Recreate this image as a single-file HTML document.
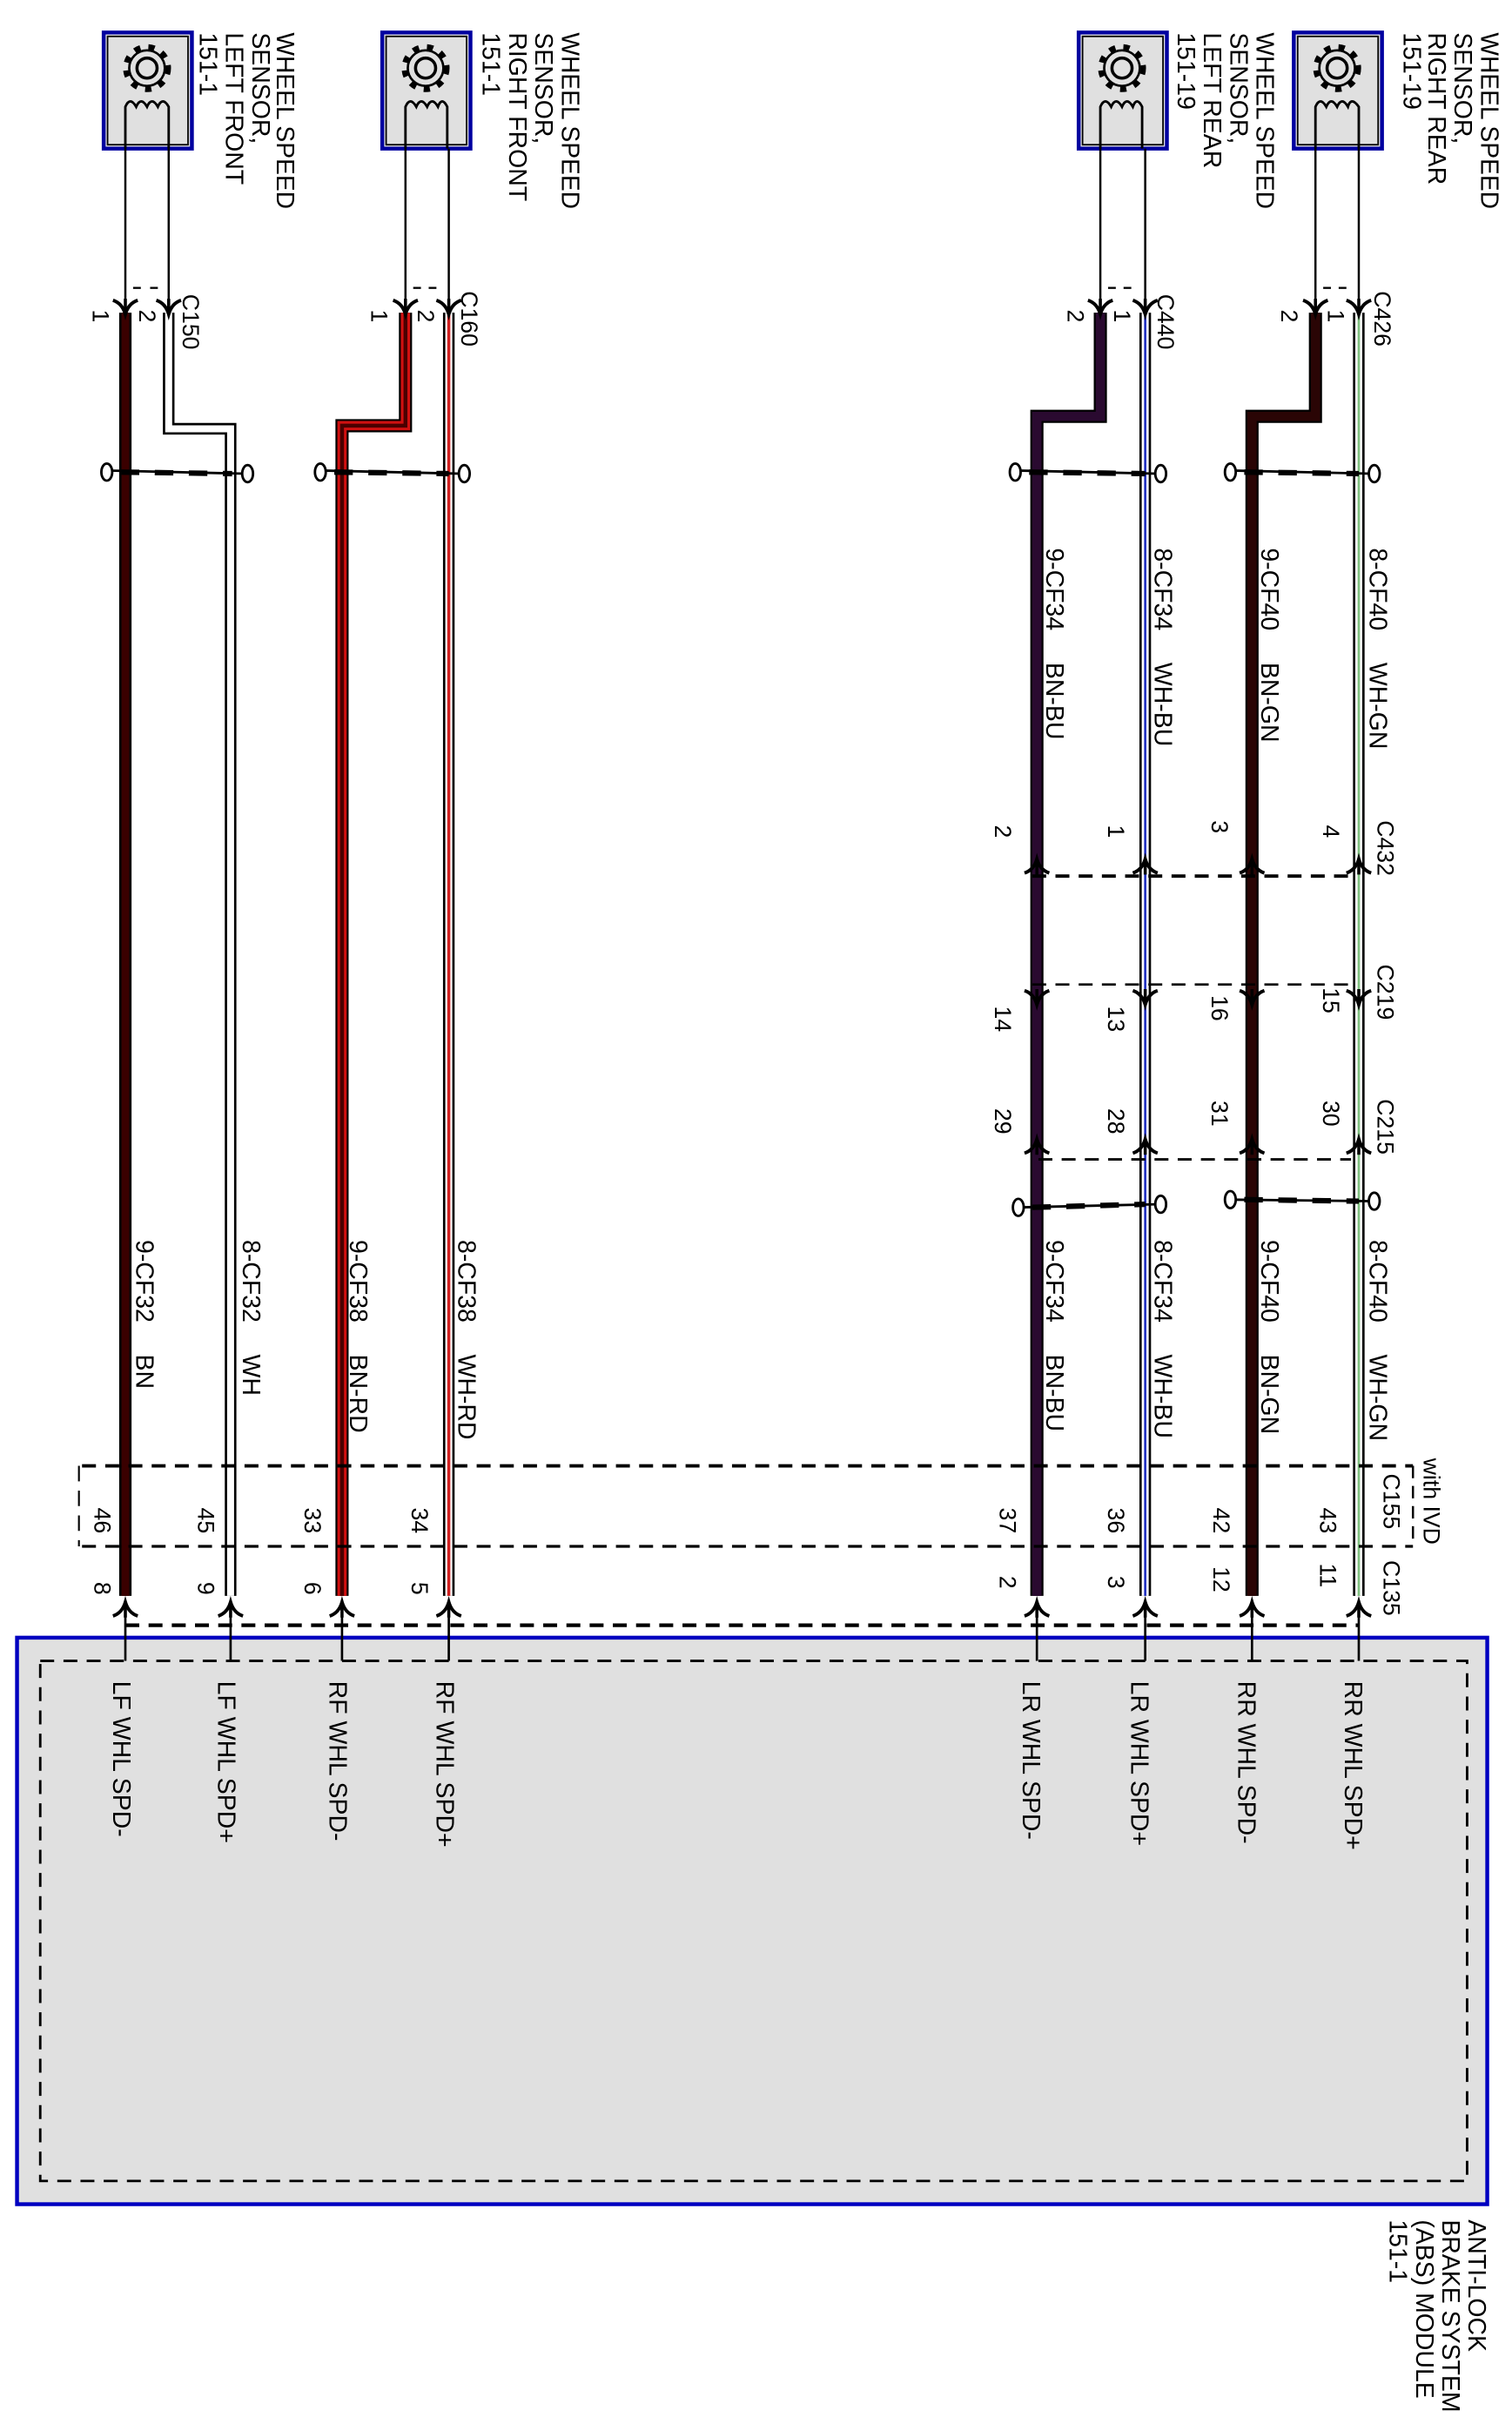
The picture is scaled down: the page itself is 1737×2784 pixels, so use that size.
<!DOCTYPE html>
<html><head><meta charset="utf-8"><style>
html,body{margin:0;padding:0;background:#fff}
svg{display:block}
text{font-family:"Liberation Sans",Arial,sans-serif;fill:#000}
</style></head><body>
<svg width="1737" height="2784" viewBox="0 0 977 1566" preserveAspectRatio="none" xmlns="http://www.w3.org/2000/svg">
<defs>
<g id="gear">
<circle r="13.5" fill="none" stroke="#000" stroke-width="4" stroke-dasharray="4 5.2"/>
<circle r="11.5" fill="#e0e0e0" stroke="#000" stroke-width="1.5"/>
<circle r="6.5" fill="none" stroke="#000" stroke-width="2"/>
</g>
<g id="dn"><path d="M-8,-8 Q-2,-6 0,1 Q2,-6 8,-8" fill="none" stroke="#000" stroke-width="2.2"/><line x1="0" y1="-9" x2="0" y2="1" stroke="#000" stroke-width="2"/></g>
<g id="up"><path d="M-8,8 Q-2,6 0,-1 Q2,6 8,8" fill="none" stroke="#000" stroke-width="2.2"/><line x1="0" y1="9" x2="0" y2="-1" stroke="#000" stroke-width="2"/></g>
</defs>

<!-- sensors -->
<g>
<rect x="67" y="21" width="57" height="75" fill="#e0e0e0" stroke="#0000a0" stroke-width="2.5"/>
<rect x="69.5" y="23.5" width="52" height="70" fill="none" stroke="#000" stroke-width="1"/>
<use href="#gear" x="95" y="44"/>
<path d="M81,96 V69 q3,-7 7,0 q3,-7 7,0 q3,-7 7,0 q3,-7 7,0 V96" fill="none" stroke="#000" stroke-width="1.6"/>
<rect x="247" y="21" width="57" height="75" fill="#e0e0e0" stroke="#0000a0" stroke-width="2.5"/>
<rect x="249.5" y="23.5" width="52" height="70" fill="none" stroke="#000" stroke-width="1"/>
<use href="#gear" x="275" y="44"/>
<path d="M262,96 V69 q3,-7 7,0 q3,-7 7,0 q3,-7 7,0 q2.5,-7 6,0 V96" fill="none" stroke="#000" stroke-width="1.6"/>
<rect x="697" y="21" width="57" height="75" fill="#e0e0e0" stroke="#0000a0" stroke-width="2.5"/>
<rect x="699.5" y="23.5" width="52" height="70" fill="none" stroke="#000" stroke-width="1"/>
<use href="#gear" x="725" y="44"/>
<path d="M711,96 V69 q3,-7 7,0 q3,-7 7,0 q3,-7 7,0 q2.5,-7 6,0 V96" fill="none" stroke="#000" stroke-width="1.6"/>
<rect x="836" y="21" width="57" height="75" fill="#e0e0e0" stroke="#0000a0" stroke-width="2.5"/>
<rect x="838.5" y="23.5" width="52" height="70" fill="none" stroke="#000" stroke-width="1"/>
<use href="#gear" x="864" y="44"/>
<path d="M850,96 V69 q3,-7 7,0 q3,-7 7,0 q3,-7 7,0 q2,-7 7,0 V96" fill="none" stroke="#000" stroke-width="1.6"/>
</g>
<!-- thin sensor leads -->
<g stroke="#000" stroke-width="1.4">
<line x1="81" y1="96" x2="81" y2="200"/><line x1="109" y1="96" x2="109" y2="200"/>
<line x1="262" y1="96" x2="262" y2="200"/><line x1="290" y1="96" x2="290" y2="200"/>
<line x1="711" y1="96" x2="711" y2="200"/><line x1="740" y1="96" x2="740" y2="200"/>
<line x1="850" y1="96" x2="850" y2="200"/><line x1="878" y1="96" x2="878" y2="200"/>
</g>
<g stroke="#000" stroke-width="1.3">
<line x1="86" y1="186" x2="91" y2="186"/><line x1="97" y1="186" x2="102" y2="186"/>
<line x1="267" y1="186" x2="272" y2="186"/><line x1="277" y1="186" x2="282" y2="186"/>
<line x1="716" y1="186" x2="721" y2="186"/><line x1="726" y1="186" x2="731" y2="186"/>
<line x1="855" y1="186" x2="860" y2="186"/><line x1="865" y1="186" x2="870" y2="186"/>
</g>

<!-- wires -->
<g fill="none" stroke-linejoin="miter">
<polyline points="81,202 81,1031" stroke="#000" stroke-width="8"/>
<polyline points="81,202 81,1031" stroke="#3a0000" stroke-width="5"/>
<polyline points="109,202 109,277 149,277 149,1031" stroke="#000" stroke-width="7.5"/>
<polyline points="109,202 109,277 149,277 149,1031" stroke="#fff" stroke-width="4.5"/>
<polyline points="262,202 262,275 221,275 221,1031" stroke="#000" stroke-width="8.5"/>
<polyline points="262,202 262,275 221,275 221,1031" stroke="#d01010" stroke-width="6"/>
<polyline points="262,202 262,275 221,275 221,1031" stroke="#4a0000" stroke-width="2.5"/>
<polyline points="290,202 290,1031" stroke="#000" stroke-width="7.5"/>
<polyline points="290,202 290,1031" stroke="#fff" stroke-width="4.5"/>
<polyline points="290,202 290,1031" stroke="#d02020" stroke-width="2"/>
<polyline points="711,202 711,269 670,269 670,1031" stroke="#000" stroke-width="8.5"/>
<polyline points="711,202 711,269 670,269 670,1031" stroke="#2a0a30" stroke-width="6"/>
<polyline points="740,202 740,1031" stroke="#000" stroke-width="7.5"/>
<polyline points="740,202 740,1031" stroke="#fff" stroke-width="4.5"/>
<polyline points="740,202 740,1031" stroke="#2030c0" stroke-width="1.5"/>
<polyline points="850,202 850,269 809,269 809,1031" stroke="#000" stroke-width="8.5"/>
<polyline points="850,202 850,269 809,269 809,1031" stroke="#2a0505" stroke-width="6"/>
<polyline points="878,202 878,1031" stroke="#000" stroke-width="7.5"/>
<polyline points="878,202 878,1031" stroke="#fff" stroke-width="4.5"/>
<polyline points="878,202 878,1031" stroke="#80c080" stroke-width="1.5"/>
</g>

<!-- twists -->
<g fill="#fff" stroke="#000" stroke-width="1.6">
<line x1="70" y1="304" x2="158" y2="306"/><line x1="78" y1="305" x2="150" y2="306" stroke-width="3.5" stroke-dasharray="12 10"/>
<ellipse cx="69" cy="305" rx="3.5" ry="5.5"/><ellipse cx="160" cy="306" rx="3.5" ry="5.5"/>
<line x1="208" y1="304" x2="298" y2="306"/><line x1="216" y1="305" x2="290" y2="306" stroke-width="3.5" stroke-dasharray="12 10"/>
<ellipse cx="207" cy="305" rx="3.5" ry="5.5"/><ellipse cx="300" cy="306" rx="3.5" ry="5.5"/>
<line x1="657" y1="304" x2="748" y2="306"/><line x1="665" y1="305" x2="740" y2="306" stroke-width="3.5" stroke-dasharray="12 10"/>
<ellipse cx="656" cy="305" rx="3.5" ry="5.5"/><ellipse cx="750" cy="306" rx="3.5" ry="5.5"/>
<line x1="796" y1="304" x2="886" y2="306"/><line x1="804" y1="305" x2="878" y2="306" stroke-width="3.5" stroke-dasharray="12 10"/>
<ellipse cx="795" cy="305" rx="3.5" ry="5.5"/><ellipse cx="888" cy="306" rx="3.5" ry="5.5"/>
<line x1="659" y1="780" x2="748" y2="778"/><line x1="667" y1="780" x2="740" y2="778" stroke-width="3.5" stroke-dasharray="12 10"/>
<ellipse cx="658" cy="780" rx="3.5" ry="5.5"/><ellipse cx="750" cy="778" rx="3.5" ry="5.5"/>
<line x1="796" y1="775" x2="886" y2="776"/><line x1="804" y1="775" x2="878" y2="776" stroke-width="3.5" stroke-dasharray="12 10"/>
<ellipse cx="795" cy="775" rx="3.5" ry="5.5"/><ellipse cx="888" cy="776" rx="3.5" ry="5.5"/>
</g>

<!-- top connector arrows -->
<use href="#dn" x="81" y="202"/><use href="#dn" x="109" y="202"/>
<use href="#dn" x="262" y="202"/><use href="#dn" x="290" y="202"/>
<use href="#dn" x="711" y="202"/><use href="#dn" x="740" y="202"/>
<use href="#dn" x="850" y="202"/><use href="#dn" x="878" y="202"/>

<!-- inline connectors right -->
<g stroke="#000" stroke-width="2.2" stroke-dasharray="9 6" fill="none">
<line x1="667" y1="566" x2="872" y2="566"/>
<line x1="667" y1="636" x2="872" y2="636" stroke-width="1.5"/>
<line x1="671" y1="749" x2="873" y2="749" stroke-width="1.6"/>
</g>
<use href="#up" x="670" y="556"/><use href="#up" x="740" y="556"/><use href="#up" x="809" y="556"/><use href="#up" x="878" y="556"/>
<use href="#dn" x="670" y="648"/><use href="#dn" x="740" y="648"/><use href="#dn" x="809" y="648"/><use href="#dn" x="878" y="648"/>
<use href="#up" x="670" y="737"/><use href="#up" x="740" y="737"/><use href="#up" x="809" y="737"/><use href="#up" x="878" y="737"/>

<!-- C155 box -->
<g stroke="#000" fill="none" stroke-dasharray="9 6">
<line x1="53" y1="947" x2="913" y2="947" stroke-width="2.2"/>
<line x1="53" y1="999" x2="913" y2="999" stroke-width="1.8"/>
<line x1="51" y1="947" x2="51" y2="999" stroke-width="1.2" stroke-dasharray="10 6"/>
<line x1="913" y1="947" x2="913" y2="999" stroke-width="1.4" stroke-dasharray="8 5"/>
</g>

<!-- module -->
<rect x="11" y="1058" width="950" height="366" fill="#e0e0e0" stroke="#0000c0" stroke-width="2.5"/>
<rect x="26" y="1073" width="922" height="336" fill="none" stroke="#000" stroke-width="1.6" stroke-dasharray="9 6"/>
<line x1="81" y1="1050" x2="878" y2="1050" stroke="#000" stroke-width="2.4" stroke-dasharray="9 6"/>
<g stroke="#000" stroke-width="1.5">
<line x1="81" y1="1036" x2="81" y2="1073"/><line x1="149" y1="1036" x2="149" y2="1073"/>
<line x1="221" y1="1036" x2="221" y2="1073"/><line x1="290" y1="1036" x2="290" y2="1073"/>
<line x1="670" y1="1036" x2="670" y2="1073"/><line x1="740" y1="1036" x2="740" y2="1073"/>
<line x1="809" y1="1036" x2="809" y2="1073"/><line x1="878" y1="1036" x2="878" y2="1073"/>
</g>
<use href="#up" x="81" y="1036"/><use href="#up" x="149" y="1036"/><use href="#up" x="221" y="1036"/><use href="#up" x="290" y="1036"/>
<use href="#up" x="670" y="1036"/><use href="#up" x="740" y="1036"/><use href="#up" x="809" y="1036"/><use href="#up" x="878" y="1036"/>

<!-- sensor titles -->
<g font-size="16">
<text transform="translate(179,21) rotate(90)" textLength="114" lengthAdjust="spacingAndGlyphs">WHEEL SPEED</text>
<text transform="translate(163,21) rotate(90)">SENSOR,</text>
<text transform="translate(146,21) rotate(90)">LEFT FRONT</text>
<text transform="translate(129,21) rotate(90)">151-1</text>
<text transform="translate(363,21) rotate(90)" textLength="114" lengthAdjust="spacingAndGlyphs">WHEEL SPEED</text>
<text transform="translate(346,21) rotate(90)">SENSOR,</text>
<text transform="translate(329,21) rotate(90)">RIGHT FRONT</text>
<text transform="translate(312,21) rotate(90)">151-1</text>
<text transform="translate(812,21) rotate(90)" textLength="114" lengthAdjust="spacingAndGlyphs">WHEEL SPEED</text>
<text transform="translate(795,21) rotate(90)">SENSOR,</text>
<text transform="translate(778,21) rotate(90)">LEFT REAR</text>
<text transform="translate(761,21) rotate(90)">151-19</text>
<text transform="translate(957,21) rotate(90)" textLength="114" lengthAdjust="spacingAndGlyphs">WHEEL SPEED</text>
<text transform="translate(940,21) rotate(90)">SENSOR,</text>
<text transform="translate(923,21) rotate(90)">RIGHT REAR</text>
<text transform="translate(907,21) rotate(90)">151-19</text>
<text transform="translate(949,1434) rotate(90)">ANTI-LOCK</text>
<text transform="translate(932,1434) rotate(90)">BRAKE SYSTEM</text>
<text transform="translate(915,1434) rotate(90)">(ABS) MODULE</text>
<text transform="translate(898,1434) rotate(90)">151-1</text>
</g>

<!-- connector names & pins -->
<g font-size="15">
<text transform="translate(118,190) rotate(90)">C150</text>
<text transform="translate(298,188) rotate(90)">C160</text>
<text transform="translate(748,190) rotate(90)">C440</text>
<text transform="translate(888,188) rotate(90)">C426</text>
<text transform="translate(60,200) rotate(90)">1</text><text transform="translate(90,200) rotate(90)">2</text>
<text transform="translate(240,200) rotate(90)">1</text><text transform="translate(270,200) rotate(90)">2</text>
<text transform="translate(690,200) rotate(90)">2</text><text transform="translate(720,200) rotate(90)">1</text>
<text transform="translate(828,200) rotate(90)">2</text><text transform="translate(858,200) rotate(90)">1</text>

<text transform="translate(890,530) rotate(90)">C432</text>
<text transform="translate(643,533) rotate(90)">2</text><text transform="translate(716,533) rotate(90)">1</text>
<text transform="translate(783,530) rotate(90)">3</text><text transform="translate(855,533) rotate(90)">4</text>
<text transform="translate(890,623) rotate(90)">C219</text>
<text transform="translate(643,650) rotate(90)">14</text><text transform="translate(716,650) rotate(90)">13</text>
<text transform="translate(783,643) rotate(90)">16</text><text transform="translate(855,638) rotate(90)">15</text>
<text transform="translate(890,710) rotate(90)">C215</text>
<text transform="translate(643,716) rotate(90)">29</text><text transform="translate(716,716) rotate(90)">28</text>
<text transform="translate(783,711) rotate(90)">31</text><text transform="translate(855,711) rotate(90)">30</text>

<text transform="translate(920,942) rotate(90)">with IVD</text>
<text transform="translate(894,952) rotate(90)">C155</text>
<text transform="translate(894,1008) rotate(90)">C135</text>
<text transform="translate(61,974) rotate(90)">46</text><text transform="translate(128,974) rotate(90)">45</text>
<text transform="translate(197,974) rotate(90)">33</text><text transform="translate(266,974) rotate(90)">34</text>
<text transform="translate(646,974) rotate(90)">37</text><text transform="translate(716,974) rotate(90)">36</text>
<text transform="translate(784,974) rotate(90)">42</text><text transform="translate(853,974) rotate(90)">43</text>
<text transform="translate(61,1022) rotate(90)">8</text><text transform="translate(128,1022) rotate(90)">9</text>
<text transform="translate(197,1022) rotate(90)">6</text><text transform="translate(266,1022) rotate(90)">5</text>
<text transform="translate(646,1018) rotate(90)">2</text><text transform="translate(716,1018) rotate(90)">3</text>
<text transform="translate(784,1012) rotate(90)">12</text><text transform="translate(853,1010) rotate(90)">11</text>
</g>

<!-- wire codes -->
<g font-size="16">
<text transform="translate(676,354) rotate(90)">9-CF34</text><text transform="translate(676,428) rotate(90)">BN-BU</text>
<text transform="translate(746,354) rotate(90)">8-CF34</text><text transform="translate(746,428) rotate(90)">WH-BU</text>
<text transform="translate(815,354) rotate(90)">9-CF40</text><text transform="translate(815,428) rotate(90)">BN-GN</text>
<text transform="translate(885,354) rotate(90)">8-CF40</text><text transform="translate(885,428) rotate(90)">WH-GN</text>

<text transform="translate(88,801) rotate(90)">9-CF32</text><text transform="translate(88,875) rotate(90)">BN</text>
<text transform="translate(157,801) rotate(90)">8-CF32</text><text transform="translate(157,875) rotate(90)">WH</text>
<text transform="translate(226,801) rotate(90)">9-CF38</text><text transform="translate(226,875) rotate(90)">BN-RD</text>
<text transform="translate(296,801) rotate(90)">8-CF38</text><text transform="translate(296,875) rotate(90)">WH-RD</text>
<text transform="translate(676,801) rotate(90)">9-CF34</text><text transform="translate(676,875) rotate(90)">BN-BU</text>
<text transform="translate(746,801) rotate(90)">8-CF34</text><text transform="translate(746,875) rotate(90)">WH-BU</text>
<text transform="translate(815,801) rotate(90)">9-CF40</text><text transform="translate(815,875) rotate(90)">BN-GN</text>
<text transform="translate(885,801) rotate(90)">8-CF40</text><text transform="translate(885,875) rotate(90)">WH-GN</text>

<text transform="translate(73,1086) rotate(90)">LF WHL SPD-</text>
<text transform="translate(141,1086) rotate(90)">LF WHL SPD+</text>
<text transform="translate(213,1086) rotate(90)">RF WHL SPD-</text>
<text transform="translate(282,1086) rotate(90)">RF WHL SPD+</text>
<text transform="translate(661,1086) rotate(90)">LR WHL SPD-</text>
<text transform="translate(731,1086) rotate(90)">LR WHL SPD+</text>
<text transform="translate(800,1086) rotate(90)">RR WHL SPD-</text>
<text transform="translate(869,1086) rotate(90)">RR WHL SPD+</text>
</g>
</svg>
</body></html>
